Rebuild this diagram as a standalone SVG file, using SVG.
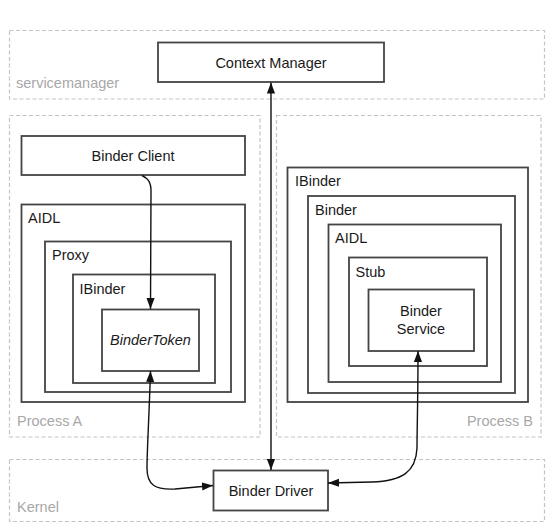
<svg xmlns="http://www.w3.org/2000/svg" width="554" height="532" viewBox="0 0 554 532">
<style>
text{font-family:"Liberation Sans",Arial,Helvetica,sans-serif;font-size:14.5px;fill:#1a1a1a}
.zone{fill:none;stroke:#c4c4c4;stroke-width:1.2;stroke-dasharray:4 2.5}
.zl{fill:#a8a8a8}
.box{fill:#fff;stroke:#444;stroke-width:1.8}
.c{text-anchor:middle}
.edge{fill:none;stroke:#111;stroke-width:1.4}
</style>
<defs>
<marker id="ah" viewBox="0 0 10 10" refX="10" refY="5" markerWidth="11" markerHeight="9" markerUnits="userSpaceOnUse" orient="auto-start-reverse" preserveAspectRatio="none">
<path d="M0,0.5 L10,5 L0,9.5 Z" fill="#111"/>
</marker>
</defs>
<rect width="554" height="532" fill="#fff"/>
<g id="servicemanager"><rect class="zone" x="9.5" y="30.5" width="535" height="68.5"/><text class="zl" x="16" y="88">servicemanager</text></g>
<g id="processA"><rect class="zone" x="9.5" y="115.5" width="250.5" height="321.5"/><text class="zl" x="17" y="426">Process A</text></g>
<g id="processB"><rect class="zone" x="276.5" y="115.5" width="264.5" height="321.5"/><text class="zl" x="533" y="426" text-anchor="end">Process B</text></g>
<g id="kernel"><rect class="zone" x="9.5" y="459.5" width="535" height="62"/><text class="zl" x="17" y="512">Kernel</text></g>

<g id="contextManager"><rect class="box" x="158" y="42.5" width="226" height="39.5"/><text class="c" x="271" y="67.5">Context Manager</text></g>
<g id="binderClient"><rect class="box" x="21.5" y="136" width="223.5" height="39"/><text class="c" x="133" y="160.5">Binder Client</text></g>
<g id="aidlA"><rect class="box" x="21.5" y="204.5" width="223.5" height="197.5"/><text x="28" y="223">AIDL</text></g>
<g id="proxy"><rect class="box" x="45" y="241.5" width="186" height="150.5"/><text x="52" y="260">Proxy</text></g>
<g id="ibinderA"><rect class="box" x="73" y="274.5" width="142" height="108.5"/><text x="79.5" y="294">IBinder</text></g>
<g id="binderToken"><rect class="box" x="102" y="309.5" width="97" height="61.5"/><text class="c" x="150.5" y="345" font-style="italic">BinderToken</text></g>

<g id="ibinderB"><rect class="box" x="287.5" y="167.5" width="240.5" height="234.5"/><text x="295" y="186">IBinder</text></g>
<g id="binder"><rect class="box" x="308" y="196" width="207" height="197"/><text x="315" y="214.5">Binder</text></g>
<g id="aidlB"><rect class="box" x="328.5" y="224.5" width="172.5" height="157.5"/><text x="335" y="243">AIDL</text></g>
<g id="stub"><rect class="box" x="349" y="257.5" width="138" height="108.5"/><text x="355.5" y="277">Stub</text></g>
<g id="binderService"><rect class="box" x="368.5" y="289.5" width="105.5" height="61.5"/><text class="c" x="421" y="315.5">Binder</text><text class="c" x="421" y="333.5">Service</text></g>

<g id="binderDriver"><rect class="box" x="213.5" y="470.5" width="114.5" height="40"/><text class="c" x="271" y="495.5">Binder Driver</text></g>

<g id="connectors">
<path class="edge" d="M271,82.5 L271,470" marker-start="url(#ah)" marker-end="url(#ah)"/>
<path class="edge" d="M142,175.5 C147,178 151,181 151,191 L150.5,309" marker-end="url(#ah)"/>
<path class="edge" d="M150.5,371 C149,420 147,450 147,468 C147,485 155,490 175,489 L213,485.5" marker-start="url(#ah)" marker-end="url(#ah)"/>
<path class="edge" d="M418,351 C418,400 417,430 417,448 C416,472 402,481 372,482 L328,483" marker-start="url(#ah)" marker-end="url(#ah)"/>
</g>
</svg>
